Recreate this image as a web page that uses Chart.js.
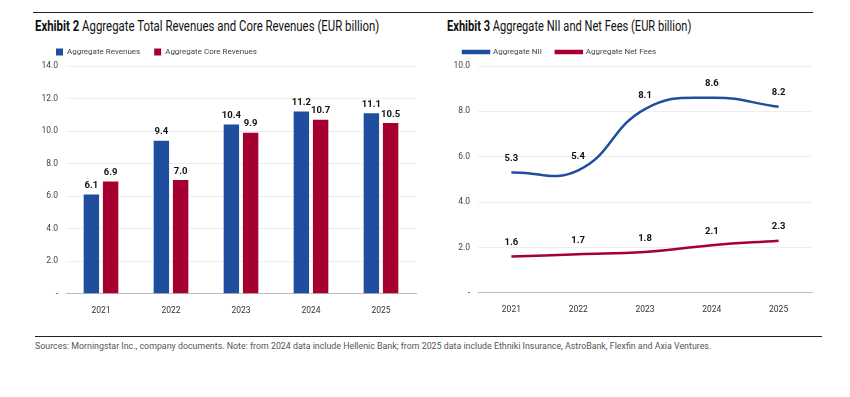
<!DOCTYPE html>
<html>
<head>
<meta charset="utf-8">
<script src="https://cdn.jsdelivr.net/npm/chart.js@4"></script>
<style>
  body { margin: 0; background: #fff; width: 850px; height: 397px; position: relative; overflow: hidden;
         font-family: Roboto, "Liberation Sans", sans-serif; }
  .rule { position: absolute; height: 1px; background: #222; }
  .title { position: absolute; top: 17px; font-size: 15px; color: #111; white-space: nowrap;
           transform: scaleX(0.76); transform-origin: left top; }
  .title b { font-weight: bold; }
  .box { position: absolute; }
  .source { position: absolute; left: 35px; top: 340px; font-size: 9.5px; color: #555; white-space: nowrap;
            transform: scaleX(0.93); transform-origin: left top; }
</style>
</head>
<body>
<div class="rule" style="left:33px; top:12px; width:780px;"></div>
<div class="title" style="left:35px;"><b>Exhibit 2</b> Aggregate Total Revenues and Core Revenues (EUR billion)</div>
<div class="title" style="left:447px; transform: scaleX(0.74);"><b>Exhibit 3</b> Aggregate NII and Net Fees (EUR billion)</div>
<div class="box" style="left:42px; top:34px; width:382px; height:286px;"><canvas id="revenues-chart"></canvas></div>
<div class="box" style="left:449px; top:34px; width:371px; height:285px;"><canvas id="nii-chart"></canvas></div>
<div class="rule" style="left:35px; top:336px; width:787px;"></div>
<div class="source">Sources: Morningstar Inc., company documents. Note: from 2024 data include Hellenic Bank; from 2025 data include Ethniki Insurance, AstroBank, Flexfin and Axia Ventures.</div>
<script>
// Data
const years = ['2021', '2022', '2023', '2024', '2025'];
const aggregateRevenues = [6.1, 9.4, 10.4, 11.2, 11.1];
const aggregateCoreRevenues = [6.9, 7.0, 9.9, 10.7, 10.5];
const aggregateNII = [5.3, 5.4, 8.1, 8.6, 8.2];
const aggregateNetFees = [1.6, 1.7, 1.8, 2.1, 2.3];

const BLUE = '#1f4e9e';
const RED = '#a5002f';
const FONT = 'Roboto, "Liberation Sans", sans-serif';

// Value labels above bars / points
const valueLabels = {
  id: 'valueLabels',
  afterDatasetsDraw(chart) {
    const ctx = chart.ctx;
    ctx.save();
    ctx.font = 'bold 9.5px ' + FONT;
    ctx.fillStyle = '#111';
    ctx.textAlign = 'center';
    ctx.textBaseline = 'bottom';
    chart.data.datasets.forEach((ds, i) => {
      chart.getDatasetMeta(i).data.forEach((el, j) => {
        const gap = chart.config.type === 'bar' ? 4 : 9;
        ctx.fillText(ds.data[j].toFixed(1), el.x, el.y - gap);
      });
    });
    ctx.restore();
  }
};

function yTick(v) {
  return v === 0 ? '-' : v.toFixed(1);
}

function commonOptions(max, step, axisWidth) {
  return {
    responsive: true,
    maintainAspectRatio: false,
    animation: false,
    layout: { padding: { top: 0, right: 8, left: 0, bottom: 0 } },
    plugins: {
      legend: {
        display: true,
        position: 'top',
        align: 'start',
        labels: { font: { family: FONT, size: 8 }, color: '#444', padding: 14 },
      },
      tooltip: { enabled: false },
    },
    scales: {
      x: {
        grid: { display: false },
        border: { color: '#bbb' },
        ticks: { font: { family: FONT, size: 8.5 }, color: '#333', padding: 4 },
      },
      y: {
        min: 0,
        max: max,
        afterFit: (scale) => { scale.width = axisWidth; },
        ticks: { stepSize: step, callback: yTick, font: { family: FONT, size: 8.5 }, color: '#444', padding: 8 },
        grid: { color: '#eeeeee', drawTicks: false },
        border: { display: false },
      },
    },
  };
}

// Exhibit 2
function renderRevenuesChart() {
  const opts = commonOptions(14, 2, 24);
  opts.plugins.legend.labels.boxWidth = 7;
  opts.plugins.legend.labels.boxHeight = 7;
  new Chart(document.getElementById('revenues-chart'), {
    type: 'bar',
    data: {
      labels: years,
      datasets: [
        { label: 'Aggregate Revenues', data: aggregateRevenues, backgroundColor: BLUE,
          categoryPercentage: 0.55, barPercentage: 0.8 },
        { label: 'Aggregate Core Revenues', data: aggregateCoreRevenues, backgroundColor: RED,
          categoryPercentage: 0.55, barPercentage: 0.8 },
      ],
    },
    options: opts,
    plugins: [valueLabels],
  });
}

// Exhibit 3
function renderNiiChart() {
  const opts = commonOptions(10, 2, 29);
  opts.plugins.legend.labels.boxWidth = 26;
  opts.plugins.legend.labels.boxHeight = 2;
  opts.scales.x.offset = true;
  new Chart(document.getElementById('nii-chart'), {
    type: 'line',
    data: {
      labels: years,
      datasets: [
        { label: 'Aggregate NII', data: aggregateNII, borderColor: BLUE, backgroundColor: BLUE,
          borderWidth: 2.5, pointRadius: 0, tension: 0.45, fill: false },
        { label: 'Aggregate Net Fees', data: aggregateNetFees, borderColor: RED, backgroundColor: RED,
          borderWidth: 2.5, pointRadius: 0, tension: 0.45, fill: false },
      ],
    },
    options: opts,
    plugins: [valueLabels],
  });
}

function init() {
  renderRevenuesChart();
  renderNiiChart();
}

init();
</script>
</body>
</html>
